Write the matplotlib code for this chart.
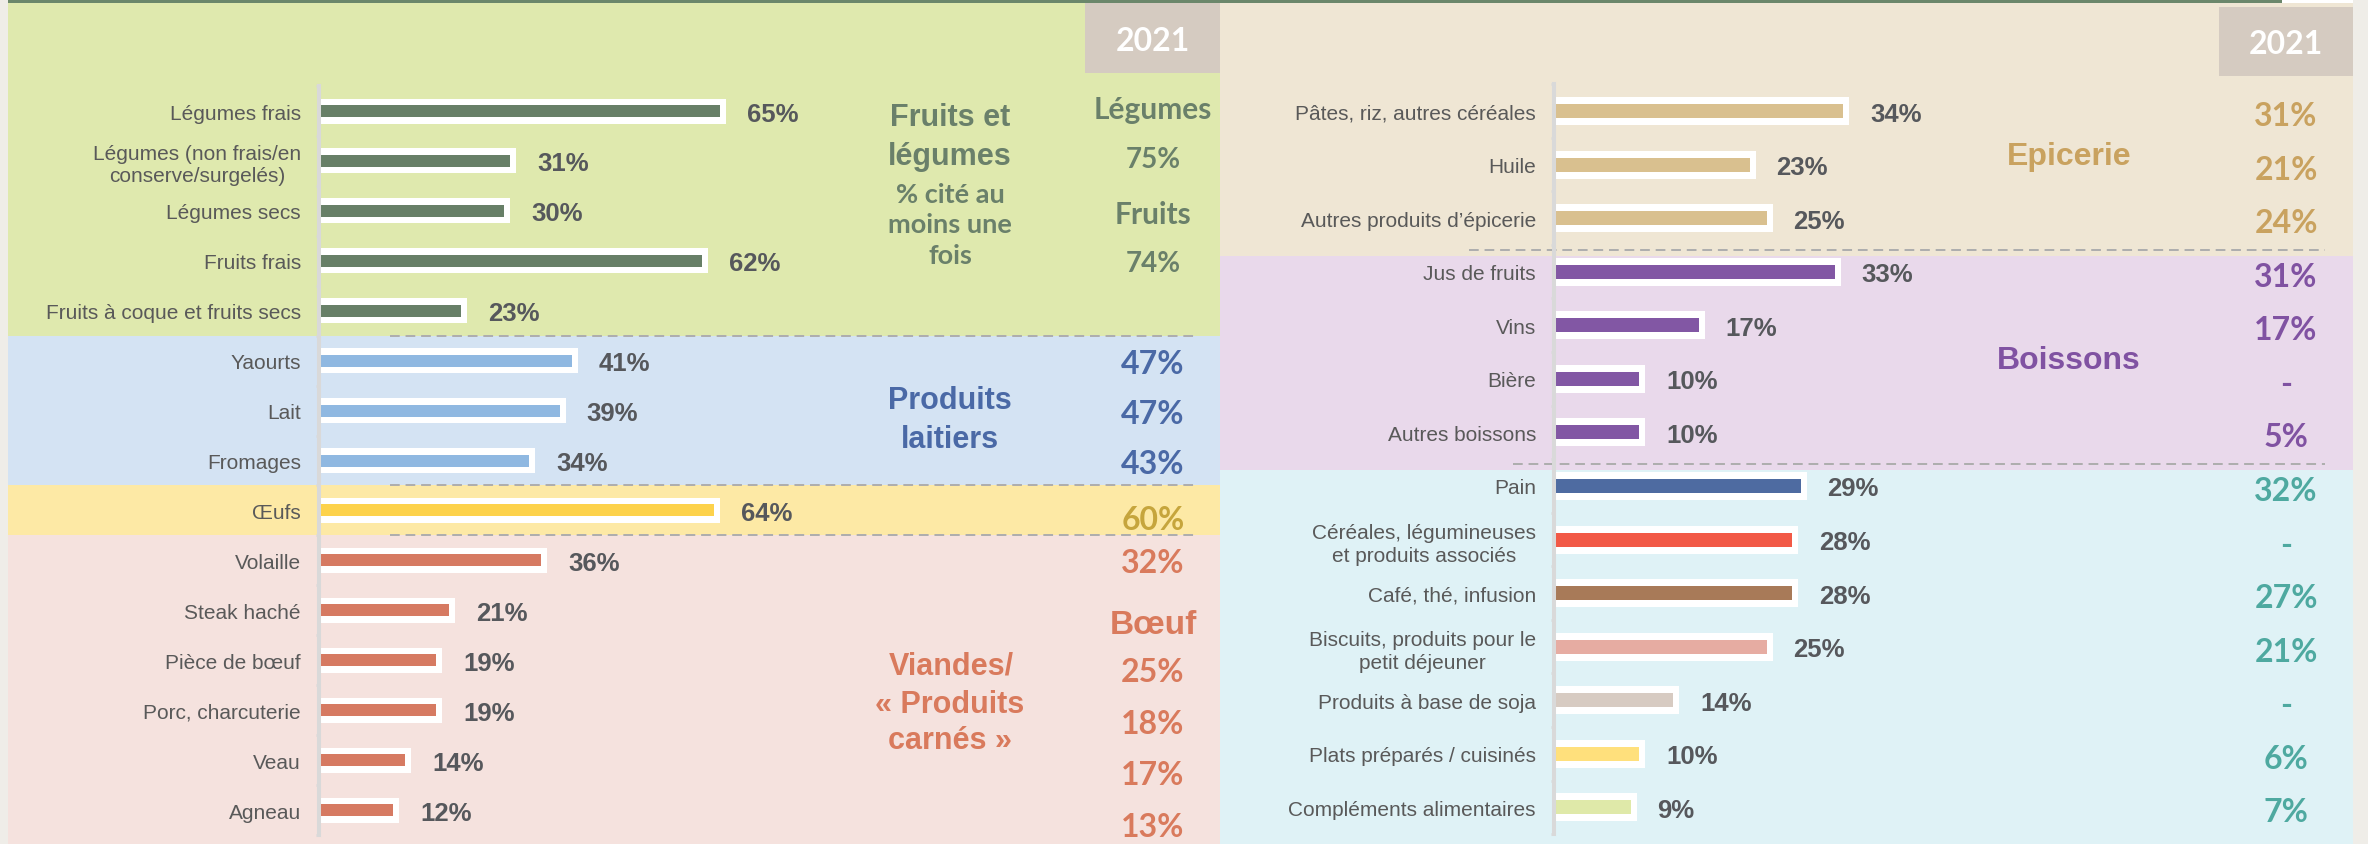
import matplotlib
matplotlib.use("Agg")
import matplotlib.pyplot as plt
from matplotlib.patches import Rectangle

# ---------------- data ----------------
fl_labels = ["Légumes frais", "Légumes (non frais/en\nconserve/surgelés)", "Légumes secs",
             "Fruits frais", "Fruits à coque et fruits secs"]
fl_values = [65, 31, 30, 62, 23]
fl_2021 = ["Légumes", "75%", "Fruits", "74%"]

lait_labels = ["Yaourts", "Lait", "Fromages"]
lait_values = [41, 39, 34]
lait_2021 = ["47%", "47%", "43%"]

oeufs_labels = ["Œufs"]
oeufs_values = [64]
oeufs_2021 = ["60%"]

viande_labels = ["Volaille", "Steak haché", "Pièce de bœuf", "Porc, charcuterie", "Veau", "Agneau"]
viande_values = [36, 21, 19, 19, 14, 12]
viande_2021 = ["32%", "Bœuf", "25%", "18%", "17%", "13%"]

epi_labels = ["Pâtes, riz, autres céréales", "Huile", "Autres produits d’épicerie"]
epi_values = [34, 23, 25]
epi_2021 = ["31%", "21%", "24%"]

boi_labels = ["Jus de fruits", "Vins", "Bière", "Autres boissons"]
boi_values = [33, 17, 10, 10]
boi_2021 = ["31%", "17%", "-", "5%"]

aut_labels = ["Pain", "Céréales, légumineuses\net produits associés", "Café, thé, infusion",
              "Biscuits, produits pour le\npetit déjeuner", "Produits à base de soja",
              "Plats préparés / cuisinés", "Compléments alimentaires"]
aut_values = [29, 28, 28, 25, 14, 10, 9]
aut_2021 = ["32%", "-", "27%", "21%", "-", "6%", "7%"]

# ---------------- style ----------------
ARIAL = ["Liberation Sans", "DejaVu Sans"]
CALI = ["Lato", "DejaVu Sans"]
GREY_TXT = "#595959"
VAL_TXT = "#56585c"
AXIS_C = "#d9d9d9"

W, H = 2368, 845
fig = plt.figure(figsize=(W / 100, H / 100), dpi=100)
fig.patch.set_facecolor("#efede8")
bg = fig.add_axes([0, 0, 1, 1])
bg.set_xlim(0, W)
bg.set_ylim(H, 0)
bg.axis("off")

# geometry (pixels)
L_X0, L_X1, L_AX, L_ROW0, L_ROWH, L_PXU = 8, 1220, 319, 112, 49.93, 6.17
R_X0, R_X1, R_AX, R_ROW0, R_ROWH, R_PXU = 1220, 2353, 1554, 112, 53.57, 8.5


def lrow(i):
    return L_ROW0 + L_ROWH * i


def rrow(i):
    return R_ROW0 + R_ROWH * i


# ---------------- backgrounds ----------------
left_groups = [len(fl_labels), len(lait_labels), len(oeufs_labels), len(viande_labels)]
left_bg = ["#dfe9ae", "#d4e3f3", "#fde9a5", "#f5e2de"]
bounds = [3]
acc = 0
for g in left_groups[:-1]:
    acc += g
    bounds.append(lrow(acc - 0.5))
bounds.append(H)
for k, c in enumerate(left_bg):
    bg.add_patch(Rectangle((L_X0, bounds[k]), L_X1 - L_X0, bounds[k + 1] - bounds[k], color=c, lw=0))
for b in bounds[1:-1]:
    bg.plot([390, 1197], [b, b], color="#adadad", lw=1.4, ls=(0, (5, 3)))

right_groups = [len(epi_labels), len(boi_labels), len(aut_labels)]
right_bg = ["#efe6d4", "#e9d9eb", "#dff2f6"]
rb = [3]
acc = 0
for g in right_groups[:-1]:
    acc += g
    rb.append(rrow(acc - 0.5) + 11)
rb.append(H)
for k, c in enumerate(right_bg):
    bg.add_patch(Rectangle((R_X0, rb[k]), R_X1 - R_X0, rb[k + 1] - rb[k], color=c, lw=0))
acc = 0
for k, g in enumerate(right_groups[:-1]):
    acc += g
    yb = rrow(acc - 0.5) + 5
    bg.plot([1469 if k == 0 else 1513, 2325], [yb, yb], color="#adadad", lw=1.4, ls=(0, (5, 3)))

# top line
bg.add_patch(Rectangle((8, 0), 2282 - 8, 3.5, color="#6b876b", lw=0))
bg.add_patch(Rectangle((2282, 0), R_X1 - 2282, 3.5, color="white", lw=0))

# 2021 header boxes
for (x0, x1, y0, y1) in [(1085, 1220, 4, 74), (2219, 2353, 8, 77)]:
    bg.add_patch(Rectangle((x0, y0), x1 - x0, y1 - y0, color="#d5cbc1", lw=0))
    bg.text((x0 + x1) / 2, (y0 + y1) / 2, "2021", color="white", fontsize=23,
            fontweight="bold", family=CALI, ha="center", va="center_baseline")


# ---------------- bar axes ----------------
def bar_axes(x_px, x_end, row0, rowh, n, pxu):
    top = row0 - rowh / 2
    ax = fig.add_axes([x_px / W, 1 - (top + n * rowh) / H, (x_end - x_px) / W, n * rowh / H])
    ax.set_xlim(0, (x_end - x_px) / pxu)
    ax.set_ylim(n - 0.5, -0.5)
    ax.patch.set_alpha(0)
    for s in ["top", "right", "bottom"]:
        ax.spines[s].set_visible(False)
    ax.spines["left"].set_color(AXIS_C)
    ax.spines["left"].set_linewidth(2.9)
    ax.set_xticks([])
    ax.set_yticks([i - 0.5 for i in range(n + 1)], minor=True)
    ax.tick_params(axis="y", which="minor", length=2.5, width=2, color=AXIS_C, direction="out")
    ax.tick_params(axis="y", which="major", length=0, pad=13)
    return ax


def draw_bars(ax, labels, values, colors, pxu, rowh, white_h, bar_h, lsp):
    n = len(values)
    ys = list(range(n))
    pad = 6 / pxu
    ax.barh(ys, [v + pad for v in values], height=white_h / rowh, color="white", zorder=1)
    ax.barh(ys, values, height=bar_h / rowh, color=colors, zorder=2)
    for y, v in zip(ys, values):
        ax.annotate(f"{v}%", (v, y), xytext=(19.5, 0), textcoords="offset points",
                    ha="left", va="center_baseline", fontsize=18.5, fontweight="bold",
                    color=VAL_TXT, family=ARIAL)
    ax.set_yticks(ys)
    ax.set_yticklabels(labels, fontsize=15, color=GREY_TXT, family=ARIAL)
    for t in ax.get_yticklabels():
        t.set_multialignment("center")
        t.set_linespacing(lsp)


# left panel
l_labels = fl_labels + lait_labels + oeufs_labels + viande_labels
l_values = fl_values + lait_values + oeufs_values + viande_values
l_colors = (["#677f67"] * len(fl_values) + ["#8fb8e1"] * len(lait_values)
            + ["#fdd24b"] * len(oeufs_values) + ["#d67a62"] * len(viande_values))
axL = bar_axes(L_AX, L_X1, L_ROW0, L_ROWH, len(l_values), L_PXU)
draw_bars(axL, l_labels, l_values, l_colors, L_PXU, L_ROWH, 25, 12, 1.2)

# right panel
r_labels = epi_labels + boi_labels + aut_labels
r_values = epi_values + boi_values + aut_values
r_colors = ["#d9c08f"] * len(epi_values) + ["#8257a4"] * len(boi_values) + [
    "#4e6ba1", "#f25946", "#a87a58", "#e6aca2", "#d7cbc2", "#ffe07c", "#dfe9a9"]
axR = bar_axes(R_AX, R_X1, R_ROW0, R_ROWH, len(r_values), R_PXU)
draw_bars(axR, r_labels, r_values, r_colors, R_PXU, R_ROWH, 28, 14, 1.3)

# ---------------- group titles & 2021 columns (left) ----------------
GREEN_T = "#6a806a"
BLUE_T = "#4a69a6"
GOLD_T = "#c6a53c"
SALM_T = "#d97a5c"


def txt(x, y, s, color, size, fam=ARIAL, weight="bold"):
    bg.text(x, y, s, color=color, fontsize=size, fontweight=weight, family=fam,
            ha="center", va="center_baseline")


txt(950, 115, "Fruits et", GREEN_T, 22)
txt(950, 153, "légumes", GREEN_T, 22)
txt(950, 193, "% cité au", GREEN_T, 19.5, CALI)
txt(950, 223, "moins une", GREEN_T, 19.5, CALI)
txt(950, 254, "fois", GREEN_T, 19.5, CALI)
for s, y, sz in zip(fl_2021, [108, 158, 212, 262], [21.5, 20, 21.5, 20]):
    txt(1153, y, s, GREEN_T, sz, CALI)

txt(950, 398, "Produits", BLUE_T, 22)
txt(950, 437, "laitiers", BLUE_T, 22)
for k, s in enumerate(lait_2021):
    txt(1153, lrow(len(fl_values) + k), s, BLUE_T, 23, CALI)

for k, s in enumerate(oeufs_2021):
    txt(1153, lrow(len(fl_values) + len(lait_values) + k) + 7, s, GOLD_T, 23, CALI)

txt(951, 663, "Viandes/", SALM_T, 22)
txt(950, 702, "« Produits", SALM_T, 22)
txt(950, 738, "carnés »", SALM_T, 22)
for s, y in zip(viande_2021, [561, 622, 670, 722, 773, 825]):
    if s == "Bœuf":
        txt(1153, y, s, SALM_T, 24)
    else:
        txt(1153, y, s, SALM_T, 23, CALI)

# ---------------- group titles & 2021 columns (right) ----------------
TAN_T = "#c9a25f"
PURP_T = "#8052a2"
TEAL_T = "#4ea9a0"
txt(2069, 153, "Epicerie", TAN_T, 23)
txt(2069, 358, "Boissons", PURP_T, 23)
i = 0
for vals, col in [(epi_2021, TAN_T), (boi_2021, PURP_T), (aut_2021, TEAL_T)]:
    for s in vals:
        txt(2286, rrow(i) + 2, s, col, 23, CALI)
        i += 1

fig.savefig("out.png", dpi=100, facecolor=fig.get_facecolor())
